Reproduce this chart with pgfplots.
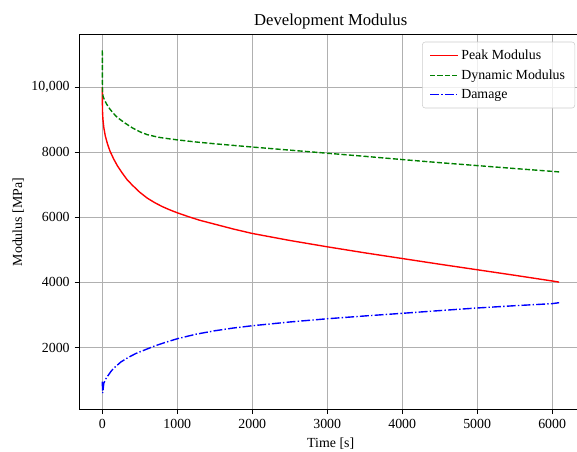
\documentclass[border=0pt]{standalone}
\usepackage{fontspec}
\setmainfont{Liberation Serif}
\usepackage{pgfplots}
\usepackage{pgfplotstable}
\pgfplotsset{compat=1.18}

% Short legend sample: #1 = RGB stroke colour, #2 = dash pattern for \pgfsetdash
\makeatletter
\newcommand\legendline[2]{%
  \begin{pgfscope}%
    \pgfsys@invoke{#1 RG}%
    \pgfsetlinewidth{1pt}%
    \pgfsetdash{#2}{0pt}%
    \pgfpathmoveto{\pgfpoint{0pt}{0pt}}%
    \pgfpathlineto{\pgfpoint{20pt}{0pt}}%
    \pgfusepath{stroke}%
  \end{pgfscope}}
\makeatother

% Peak modulus over time
\pgfplotstableread{
t E
0 10000
1 9600
3 9250
8 9020
20 8760
40 8500
70 8250
100 8050
150 7800
200 7590
260 7380
330 7160
400 6990
500 6770
600 6590
700 6450
800 6330
900 6230
1000 6140
1150 6020
1300 5910
1500 5790
1750 5640
2000 5505
2500 5290
3000 5095
3500 4910
4000 4735
4500 4560
5000 4390
5500 4220
6000 4045
6093 4010
}\peakdata

% Dynamic modulus over time
\pgfplotstableread{
t E
0 11130
1 10300
3 9850
10 9720
30 9600
60 9470
100 9330
150 9190
200 9070
300 8900
400 8750
500 8630
600 8540
750 8460
900 8410
1000 8380
1250 8315
1500 8260
2000 8160
2500 8065
3000 7970
3500 7875
4000 7775
4500 7680
5000 7590
5500 7500
6000 7413
6093 7395
}\dynamicdata

% Damage over time
\pgfplotstableread{
t E
0 950
5 600
20 900
50 1050
80 1150
120 1280
170 1400
250 1560
350 1700
450 1820
570 1930
700 2050
850 2165
1000 2270
1250 2410
1500 2515
1750 2600
2000 2670
2500 2785
3000 2884
3500 2970
4000 3051
4500 3135
5000 3215
5500 3285
6000 3348
6093 3378
}\damagedata

\begin{document}
\begin{tikzpicture}
\begin{axis}[
  name=ax,
  scale only axis,
  width=361.9pt, height=269.7pt,
  xmin=-305, xmax=6398,
  ymin=100, ymax=11607,
  scaled x ticks=false, scaled y ticks=false,
  xtick={0,1000,2000,3000,4000,5000,6000},
  xticklabels={0,1000,2000,3000,4000,5000,6000},
  ytick={2000,4000,6000,8000,10000},
  yticklabels={2000,4000,6000,8000,{10,000}},
  tick pos=left,
  tick align=outside,
  major tick length=3.5pt,
  major tick style={black, line width=0.8pt},
  axis line style={line width=0.8pt},
  grid=major,
  major grid style={color=black!31, line width=0.8pt},
  title={Development Modulus},
  title style={font=\large, at={(axis description cs:0.5,1.0194)}, anchor=base, yshift=-4.3pt},
  xlabel={Time [s]},
  xlabel style={at={(axis description cs:0.5,-0.0943)}, anchor=base, yshift=-2pt},
  ylabel={Modulus [MPa]},
  ylabel style={at={(axis description cs:-0.122,0.5)}, anchor=center},
  legend cell align=left,
  legend style={
    at={(axis description cs:0.9862,0.9816)}, anchor=north east,
    draw=black!20, rounded corners=2pt, fill=white, fill opacity=0.8, text opacity=1,
    inner xsep=5pt, inner ysep=3.5pt, row sep=1.8pt,
  },
]
\addplot[color=red, line width=1pt, sharp corners,
  legend image code/.code={\legendline{1 0 0}{}}]
  table[x=t, y=E] {\peakdata};
\addlegendentry{Peak Modulus}
\addplot[color=green!50!black, line width=1pt, sharp corners, dash pattern=on 3.7pt off 1.6pt,
  legend image code/.code={\legendline{0 0.5 0}{{3.7pt}{1.6pt}}}]
  table[x=t, y=E] {\dynamicdata};
\addlegendentry{Dynamic Modulus}
\addplot[color=blue, line width=1pt, sharp corners, dash pattern=on 6.4pt off 1.6pt on 1pt off 1.6pt,
  legend image code/.code={\legendline{0 0 1}{{6.4pt}{1.6pt}{1pt}{1.6pt}}}]
  table[x=t, y=E] {\damagedata};
\addlegendentry{Damage}
\coordinate (sw) at (rel axis cs:0,0);
\end{axis}
\pgfresetboundingbox
\path ([shift={(-57.2pt,-30.6pt)}]sw) rectangle ([shift={(358.3pt,294.8pt)}]sw);
\end{tikzpicture}
\end{document}
